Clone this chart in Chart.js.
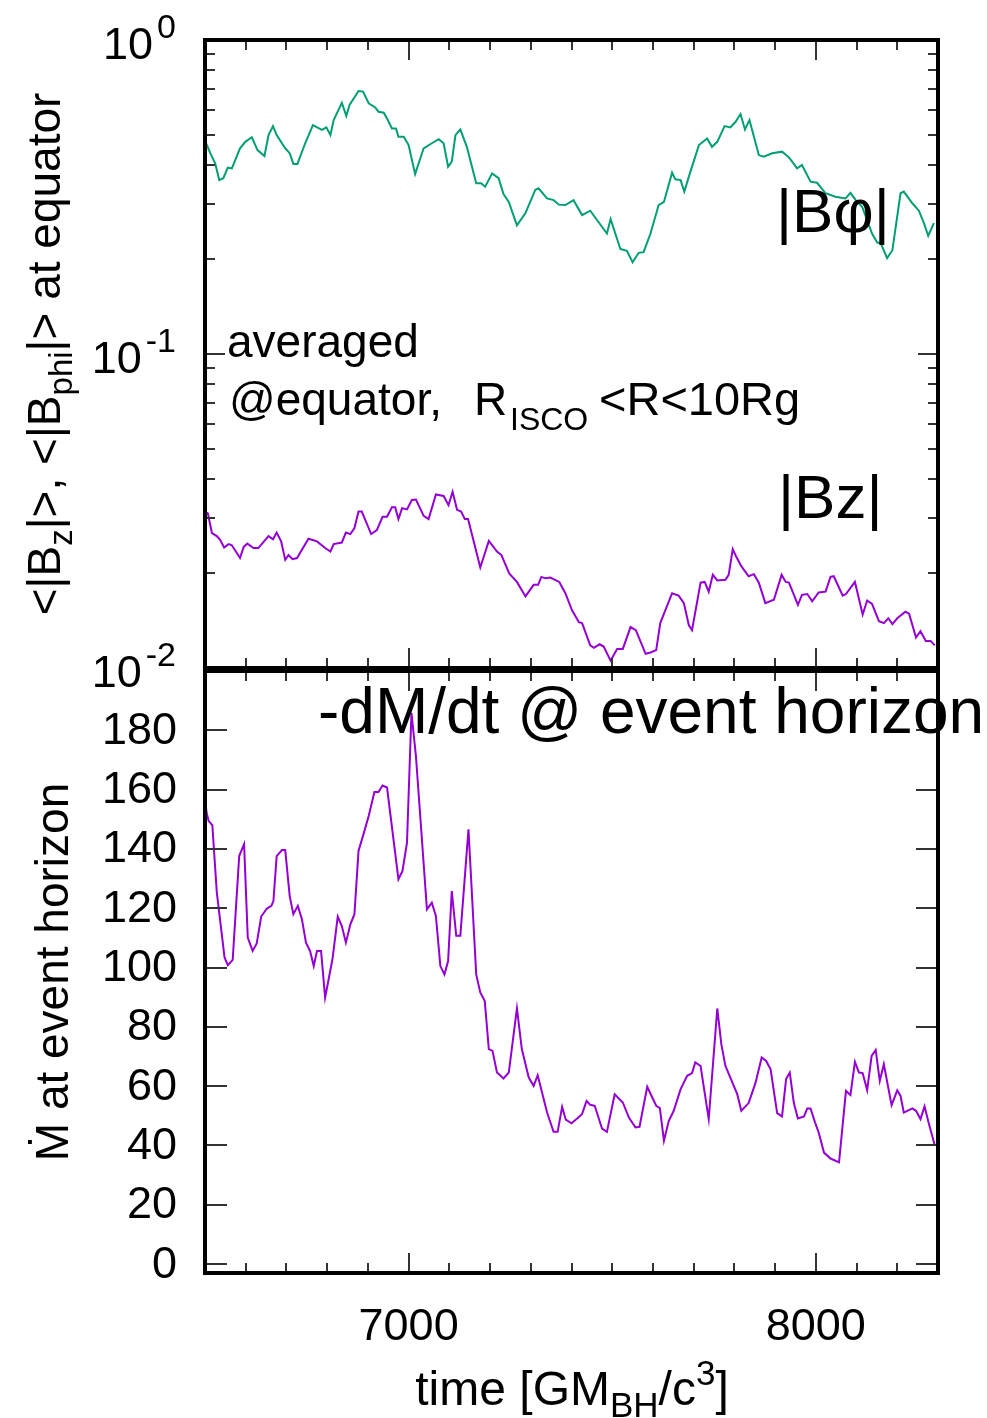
<!DOCTYPE html>
<html>
<head>
<meta charset="utf-8">
<script src="https://cdn.jsdelivr.net/npm/chart.js@4.4.0/dist/chart.umd.min.js"></script>
<style>
html, body { margin: 0; padding: 0; background: #fff; }
#wrap { position: relative; width: 987px; height: 1418px; overflow: hidden; background: #fff; }
canvas { position: absolute; left: 0; }
#top_chart { top: 0; }
#bottom_chart { top: 640px; }
</style>
</head>
<body>
<div id="wrap">
<canvas id="top_chart" width="987" height="700"></canvas>
<canvas id="bottom_chart" width="987" height="778"></canvas>
</div>
<script>
// |B_phi| at equator (green)
var bphi_time = [6500,6513,6525,6535,6545,6556,6566,6586,6599,6615,
  6629,6646,6656,6667,6676,6697,6708,6717,6727,6746,
  6765,6787,6798,6808,6816,6836,6847,6855,6877,6888,
  6902,6918,6926,6939,6949,6959,6969,6975,6988,7000,
  7016,7037,7057,7074,7086,7097,7106,7115,7127,7143,
  7166,7178,7188,7205,7221,7233,7246,7266,7287,7311,
  7319,7340,7356,7369,7385,7405,7426,7446,7487,7496,
  7520,7536,7550,7565,7577,7594,7614,7627,7647,7655,
  7668,7677,7692,7713,7733,7745,7758,7776,7790,7803,
  7815,7826,7837,7860,7872,7893,7917,7934,7954,7966,
  7987,8003,8024,8048,8073,8085,8098,8114,8138,8151,
  8159,8175,8188,8208,8216,8237,8253,8265,8276,8290]
var bphi_vals = [0.478,0.436,0.405,0.358,0.363,0.392,0.390,0.452,0.474,0.490,
  0.446,0.427,0.498,0.532,0.498,0.452,0.436,0.403,0.403,0.469,
  0.536,0.517,0.527,0.498,0.556,0.631,0.573,0.621,0.688,0.685,
  0.629,0.610,0.591,0.587,0.556,0.523,0.523,0.492,0.492,0.463,
  0.374,0.452,0.469,0.483,0.469,0.395,0.410,0.498,0.519,0.457,
  0.350,0.350,0.341,0.376,0.363,0.323,0.305,0.257,0.281,0.333,
  0.337,0.313,0.309,0.299,0.298,0.309,0.277,0.286,0.242,0.269,
  0.216,0.213,0.196,0.210,0.211,0.242,0.298,0.305,0.378,0.360,
  0.358,0.329,0.381,0.463,0.486,0.457,0.474,0.532,0.527,0.549,
  0.581,0.519,0.556,0.430,0.425,0.436,0.441,0.423,0.390,0.400,
  0.354,0.351,0.325,0.317,0.313,0.326,0.309,0.294,0.242,0.226,
  0.226,0.202,0.214,0.325,0.329,0.302,0.286,0.262,0.238,0.261]

// |B_z| at equator (purple)
var bz_time = [6500,6507,6517,6529,6537,6547,6558,6566,6586,6595,
  6604,6619,6631,6656,6667,6676,6687,6697,6705,6715,
  6726,6754,6775,6795,6808,6816,6836,6846,6857,6867,
  6877,6885,6908,6922,6936,6947,6959,6967,6975,6984,
  6996,7008,7018,7037,7049,7067,7086,7098,7108,7119,
  7129,7138,7146,7176,7197,7217,7228,7247,7266,7287,
  7307,7318,7326,7336,7348,7370,7385,7401,7418,7426,
  7446,7455,7469,7479,7496,7512,7526,7545,7558,7582,
  7594,7608,7618,7647,7663,7676,7688,7696,7717,7727,
  7737,7747,7758,7778,7786,7796,7804,7817,7835,7848,
  7860,7876,7897,7916,7926,7934,7956,7966,7979,7991,
  8007,8024,8036,8044,8066,8074,8096,8115,8126,8138,
  8155,8167,8178,8188,8200,8220,8229,8246,8257,8270,
  8282,8292]
var bz_vals = [0.0315,0.0311,0.0269,0.0263,0.0256,0.0242,0.0248,0.0246,0.0224,0.0243,
  0.0249,0.0241,0.0241,0.0263,0.0257,0.0270,0.0253,0.0221,0.0229,0.0222,
  0.0224,0.0258,0.0253,0.0241,0.0235,0.0248,0.0251,0.0270,0.0267,0.0279,
  0.0315,0.0315,0.0267,0.0275,0.0303,0.0303,0.0325,0.0325,0.0298,0.0323,
  0.0320,0.0343,0.0344,0.0305,0.0298,0.0357,0.0353,0.0330,0.0364,0.0319,
  0.0315,0.0298,0.0298,0.0209,0.0254,0.0235,0.0229,0.0200,0.0188,0.0169,
  0.0184,0.0184,0.0195,0.0193,0.0194,0.0188,0.0173,0.0153,0.0140,0.0139,
  0.0118,0.0116,0.0119,0.0117,0.01055,0.0115,0.0115,0.0135,0.0132,0.0111,
  0.0112,0.0114,0.0139,0.0173,0.0170,0.0161,0.0137,0.0132,0.0187,0.0188,
  0.0175,0.0198,0.0190,0.0191,0.0198,0.0239,0.0227,0.0211,0.0196,0.0199,
  0.0187,0.0161,0.0165,0.0198,0.0188,0.0187,0.0159,0.0171,0.0172,0.0163,
  0.0174,0.0175,0.0195,0.0196,0.0170,0.0172,0.0188,0.0148,0.0164,0.0160,
  0.0141,0.0139,0.0144,0.0138,0.0144,0.0151,0.0149,0.0125,0.0131,0.0122,
  0.0122,0.0118]

// mass accretion rate at event horizon (purple, bottom panel)
var mdot_time = [6500,6504,6509,6518,6529,6548,6556,6568,6584,6596,
  6605,6617,6627,6638,6652,6663,6668,6676,6689,6697,
  6708,6717,6728,6738,6748,6758,6767,6775,6785,6795,
  6813,6826,6836,6846,6857,6867,6877,6889,6902,6916,
  6926,6936,6947,6975,6985,6996,7007,7018,7045,7057,
  7067,7078,7088,7097,7106,7117,7127,7147,7166,7176,
  7187,7197,7206,7217,7233,7246,7266,7278,7295,7307,
  7317,7340,7356,7366,7377,7386,7400,7414,7426,7437,
  7446,7457,7475,7487,7506,7526,7541,7557,7567,7586,
  7608,7617,7627,7639,7651,7668,7684,7696,7704,7717,
  7737,7758,7768,7778,7807,7817,7835,7852,7867,7878,
  7889,7905,7917,7927,7936,7946,7956,7971,7979,7987,
  7998,8007,8020,8036,8057,8074,8085,8096,8106,8115,
  8126,8137,8147,8157,8167,8186,8200,8208,8216,8237,
  8246,8257,8267,8278,8292]
var mdot_vals = [156.7,152.2,149.4,148.0,125.3,103.4,100.8,102.6,137.6,141.6,
  110.1,105.6,108.1,117.2,119.9,120.8,122.4,137.6,139.6,139.6,
  124.1,118.0,120.8,116.3,108.4,105.6,100.5,105.6,105.6,89.9,
  102.8,117.2,114.0,108.4,114.6,118.0,139.3,144.9,151.1,159.2,
  159.2,161.4,160.7,129.8,132.6,142.1,185.9,171.3,119.6,121.9,
  117.4,100.5,97.7,102.2,125.8,110.7,110.7,146.6,97.7,91.6,
  88.7,72.5,71.9,64.6,62.6,64.6,86.2,72.5,62.9,60.1,
  63.7,51.1,44.6,44.6,53.0,48.7,47.5,49.1,50.6,55.0,
  53.7,53.4,45.7,44.6,57.3,54.5,49.4,46.1,46.3,59.8,
  53.4,52.6,41.6,48.3,51.7,59.0,63.5,64.4,68.0,66.8,
  48.9,86.2,74.1,66.8,57.3,51.7,54.3,61.2,69.7,68.5,
  65.7,50.9,49.8,62.4,64.6,54.3,49.1,49.8,52.5,52.5,
  47.8,44.4,37.6,35.6,34.3,58.4,57.0,68.2,64.6,64.4,
  58.7,70.2,72.2,61.8,67.4,53.6,58.6,56.7,51.1,52.5,
  51.7,48.9,53.2,47.2,40.1]

// ticks
var x_major_ticks = [7000, 8000]
var x_minor_ticks = [6600,6700,6800,6900,7100,7200,7300,7400,7500,7600,7700,7800,7900,8100,8200]
var top_major_ticks = [1, 0.1, 0.01]
var top_exponents = ['0', '-1', '-2']
var top_minor_ticks = [0.02,0.03,0.04,0.05,0.06,0.07,0.08,0.09,0.2,0.3,0.4,0.5,0.6,0.7,0.8,0.9]
var bottom_ticks = [0,20,40,60,80,100,120,140,160,180]

var font_family = "'Liberation Sans', Arial, Helvetica, sans-serif"
var green = '#009e73'
var purple = '#9400d3'

function make_points(times, vals) {
    var list = []
    for (var i = 0; i < times.length; i++) {
        list.push({ x: times[i], y: vals[i] })
    }
    return list
}

function draw_frame(chart, y_major, y_minor, major_len, minor_len) {
    var ctx = chart.ctx
    var area = chart.chartArea
    var sx = chart.scales.x
    var sy = chart.scales.y
    ctx.save()
    ctx.strokeStyle = '#333'
    ctx.lineWidth = 2
    ctx.beginPath()
    x_minor_ticks.forEach(function (v) {
        var px = Math.round(sx.getPixelForValue(v))
        ctx.moveTo(px, area.top); ctx.lineTo(px, area.top + 10)
        ctx.moveTo(px, area.bottom); ctx.lineTo(px, area.bottom - 10)
    })
    x_major_ticks.forEach(function (v) {
        var px = Math.round(sx.getPixelForValue(v))
        ctx.moveTo(px, area.top); ctx.lineTo(px, area.top + 20)
        ctx.moveTo(px, area.bottom); ctx.lineTo(px, area.bottom - 20)
    })
    y_minor.forEach(function (v) {
        var py = Math.round(sy.getPixelForValue(v))
        ctx.moveTo(area.left, py); ctx.lineTo(area.left + minor_len, py)
        ctx.moveTo(area.right, py); ctx.lineTo(area.right - minor_len, py)
    })
    y_major.forEach(function (v) {
        var py = Math.round(sy.getPixelForValue(v))
        ctx.moveTo(area.left, py); ctx.lineTo(area.left + major_len, py)
        ctx.moveTo(area.right, py); ctx.lineTo(area.right - major_len, py)
    })
    ctx.stroke()
    ctx.strokeStyle = '#000'
    ctx.lineWidth = 4
    ctx.strokeRect(area.left, area.top, area.right - area.left, area.bottom - area.top)
    ctx.restore()
}

// parts: [text, size factor, vertical shift]
function parts_width(ctx, parts, size) {
    var w = 0
    parts.forEach(function (p) {
        ctx.font = Math.round(size * p[1]) + 'px ' + font_family
        w += ctx.measureText(p[0]).width
    })
    return w
}

function draw_parts(ctx, x, y, parts, size) {
    parts.forEach(function (p) {
        ctx.font = Math.round(size * p[1]) + 'px ' + font_family
        ctx.fillText(p[0], x, y + p[2])
        x += ctx.measureText(p[0]).width
    })
    return x
}

function txt(ctx, s, x, y, size, align, base) {
    ctx.font = size + 'px ' + font_family
    ctx.textAlign = align || 'left'
    ctx.textBaseline = base || 'alphabetic'
    ctx.fillText(s, x, y)
}

var top_plugin = {
    id: 'top_frame',
    afterDatasetsDraw: function (chart) {
        draw_frame(chart, top_major_ticks, top_minor_ticks, 20, 10)
    },
    afterDraw: function (chart) {
        var ctx = chart.ctx
        var sy = chart.scales.y
        ctx.save()
        ctx.fillStyle = '#000'
        // 10^n labels
        for (var i = 0; i < top_major_ticks.length; i++) {
            var py = sy.getPixelForValue(top_major_ticks[i])
            ctx.font = '34px ' + font_family
            var ew = ctx.measureText(top_exponents[i]).width
            txt(ctx, top_exponents[i], 176, py - 2, 34, 'right')
            txt(ctx, '10', 176 - ew - 4, py + 19, 45, 'right')
        }
        // y title
        ctx.textAlign = 'left'
        ctx.textBaseline = 'alphabetic'
        var title_parts = [['<|B', 1, 0], ['z', 0.72, 12], ['|>, <|B', 1, 0], ['phi', 0.72, 12], ['|> at equator', 1, 0]]
        var w = parts_width(ctx, title_parts, 46)
        ctx.save()
        ctx.translate(60, 354)
        ctx.rotate(-Math.PI / 2)
        draw_parts(ctx, -w / 2, 0, title_parts, 46)
        ctx.restore()
        // notes
        txt(ctx, 'averaged', 227, 357, 46)
        txt(ctx, '@equator,', 229, 415, 46)
        txt(ctx, 'R', 474, 415, 46)
        txt(ctx, 'ISCO', 510, 430, 32)
        txt(ctx, '<R<10Rg', 599, 415, 47)
        txt(ctx, '|B\u03c6|', 776, 232, 62)
        txt(ctx, '|Bz|', 778, 518, 62)
        ctx.restore()
    }
}

var bottom_plugin = {
    id: 'bottom_frame',
    afterDatasetsDraw: function (chart) {
        draw_frame(chart, bottom_ticks, [], 22, 10)
    },
    afterDraw: function (chart) {
        var ctx = chart.ctx
        var sx = chart.scales.x
        var sy = chart.scales.y
        var area = chart.chartArea
        ctx.save()
        ctx.fillStyle = '#000'
        bottom_ticks.forEach(function (v) {
            txt(ctx, String(v), 177, sy.getPixelForValue(v) + 1, 45, 'right', 'middle')
        })
        x_major_ticks.forEach(function (v) {
            txt(ctx, String(v), sx.getPixelForValue(v), area.bottom + 67, 45, 'center')
        })
        ctx.textAlign = 'left'
        ctx.textBaseline = 'alphabetic'
        var x_parts = [['time [GM', 1, 0], ['BH', 0.72, 12], ['/c', 1, 0], ['3', 0.72, -20], [']', 1, 0]]
        var w = parts_width(ctx, x_parts, 48)
        draw_parts(ctx, 572 - w / 2, area.bottom + 132, x_parts, 48)
        // y title
        ctx.save()
        ctx.translate(68, 972 - 640)
        ctx.rotate(-Math.PI / 2)
        txt(ctx, '\u1e40 at event horizon', 0, 0, 46, 'center')
        ctx.restore()
        txt(ctx, '-dM/dt @ event horizon', 318, area.top + 62, 64)
        ctx.restore()
    }
}

var common_opts = function (pad, ycfg) {
    return {
        responsive: false,
        animation: false,
        devicePixelRatio: 1,
        events: [],
        layout: { padding: pad },
        plugins: { legend: { display: false }, tooltip: { enabled: false }, title: { display: false } },
        scales: {
            x: { type: 'linear', min: 6500, max: 8300, display: false },
            y: ycfg
        }
    }
}

var top_chart = new Chart(document.getElementById('top_chart').getContext('2d'), {
    type: 'line',
    data: {
        datasets: [{
            label: '|B\u03c6|',
            data: make_points(bphi_time, bphi_vals),
            borderColor: green,
            borderWidth: 2,
            pointRadius: 0,
            tension: 0,
            fill: false
        }, {
            label: '|Bz|',
            data: make_points(bz_time, bz_vals),
            borderColor: purple,
            borderWidth: 2,
            pointRadius: 0,
            tension: 0,
            fill: false
        }]
    },
    options: common_opts({ left: 205, right: 49, top: 40, bottom: 32 },
        { type: 'logarithmic', min: 0.01, max: 1, display: false }),
    plugins: [top_plugin]
})

var bottom_chart = new Chart(document.getElementById('bottom_chart').getContext('2d'), {
    type: 'line',
    data: {
        datasets: [{
            label: '-dM/dt',
            data: make_points(mdot_time, mdot_vals),
            borderColor: purple,
            borderWidth: 2,
            pointRadius: 0,
            tension: 0,
            fill: false
        }]
    },
    options: common_opts({ left: 205, right: 49, top: 31, bottom: 145 },
        { type: 'linear', min: -3, max: 200, display: false }),
    plugins: [bottom_plugin]
})
</script>
</body>
</html>
